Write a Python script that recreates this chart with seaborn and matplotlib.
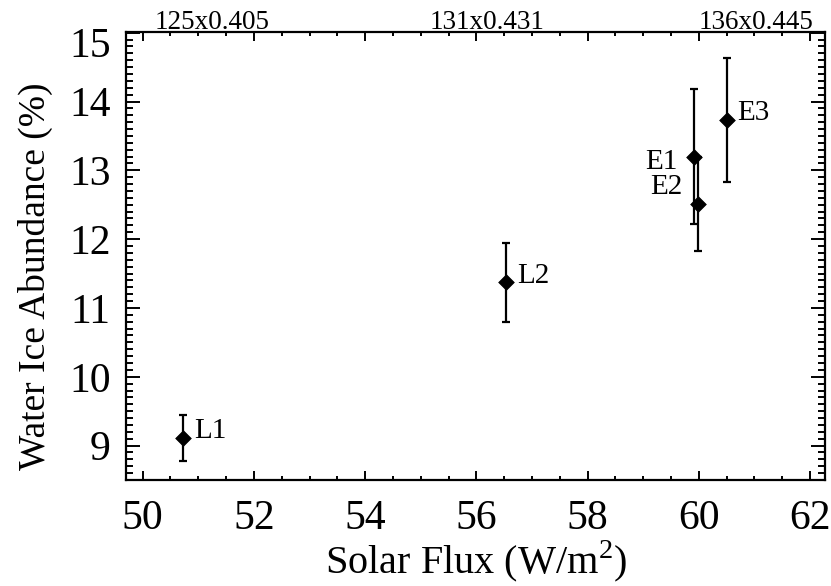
import matplotlib
matplotlib.use("Agg")
import matplotlib.pyplot as plt
import matplotlib.transforms as mtransforms
from matplotlib.ticker import MultipleLocator
import seaborn as sns
import pandas as pd

# ---- data ----
labels = ["L1", "L2", "E1", "E2", "E3"]
solar_flux = [50.73, 56.54, 59.92, 59.98, 60.50]
water_ice = [9.11, 11.37, 13.20, 12.51, 13.73]
water_err = [0.33, 0.57, 0.98, 0.68, 0.90]

top_labels = ["125x0.405", "131x0.431", "136x0.445"]
top_label_x = [51.24, 56.19, 61.03]

# label offsets (points) relative to each marker, and alignment
label_offsets = {"L1": (8, 5, "left"), "L2": (8, 5, "left"), "E3": (8, 5, "left"),
                 "E1": (-12, -4, "right"), "E2": (-11, 12, "right")}

df = pd.DataFrame({"label": labels, "flux": solar_flux, "ice": water_ice, "err": water_err})

sns.set_theme(style="ticks")
plt.rcParams["font.family"] = ["Liberation Serif", "DejaVu Serif"]
plt.rcParams["mathtext.fontset"] = "custom"
plt.rcParams["mathtext.rm"] = "Liberation Serif"
for k in ["text.color", "axes.labelcolor", "xtick.color", "ytick.color", "axes.edgecolor"]:
    plt.rcParams[k] = "black"

fig = plt.figure(figsize=(8.31, 5.86), dpi=100)
ax = fig.add_axes([126 / 831, 1 - 480 / 586, (825 - 126) / 831, (480 - 32) / 586])

ax.errorbar(df["flux"], df["ice"], yerr=df["err"], fmt="none", ecolor="black",
            elinewidth=1.6, capsize=3, capthick=1.6, zorder=2)
sns.scatterplot(data=df, x="flux", y="ice", marker="D", s=64, color="black",
                edgecolor="black", linewidth=0.5, ax=ax, zorder=3, legend=False)

for lab, x, y in zip(df["label"], df["flux"], df["ice"]):
    dx, dy, ha = label_offsets[lab]
    ax.annotate(lab, (x, y), xytext=(dx, dy), textcoords="offset points",
                ha=ha, va="center", fontsize=21, color="black")

for txt, x in zip(top_labels, top_label_x):
    ax.annotate(txt, (x, 1.0), xycoords=("data", "axes fraction"), xytext=(0, 2),
                textcoords="offset points", ha="center", va="baseline", fontsize=19.5,
                color="black")

ax.set_xlim(49.7, 62.27)
ax.set_ylim(8.5, 15.01)
ax.xaxis.set_major_locator(MultipleLocator(2))
ax.xaxis.set_minor_locator(MultipleLocator(0.5))
ax.yaxis.set_major_locator(MultipleLocator(1))
ax.yaxis.set_minor_locator(MultipleLocator(0.1))

ax.tick_params(axis="both", which="both", direction="in", top=True, right=True,
               colors="black", width=1.4)
ax.tick_params(axis="x", which="major", length=6.5, labelsize=30, pad=14)
ax.tick_params(axis="x", which="minor", length=3.2)
ax.tick_params(axis="y", which="major", length=10, labelsize=30, pad=11)
ax.tick_params(axis="y", which="minor", length=5)
ax.tick_params(axis="x", which="both", labeltop=False)

for sp in ax.spines.values():
    sp.set_linewidth(1.6)
    sp.set_color("black")

ax.set_xlabel(r"Solar Flux (W/m$^2$)", fontsize=29, labelpad=0)
ax.set_ylabel("Water Ice Abundance (%)", fontsize=27)
ax.yaxis.set_label_coords(-0.104, 0.455)

# the top y tick label sits slightly lower (kept inside the frame)
fig.canvas.draw()
for t in ax.get_yticklabels():
    if t.get_text() in ("15",):
        t.set_transform(t.get_transform() + mtransforms.ScaledTranslation(0, -10 / 100, fig.dpi_scale_trans))

fig.savefig("out.png", dpi=100, facecolor="white")
